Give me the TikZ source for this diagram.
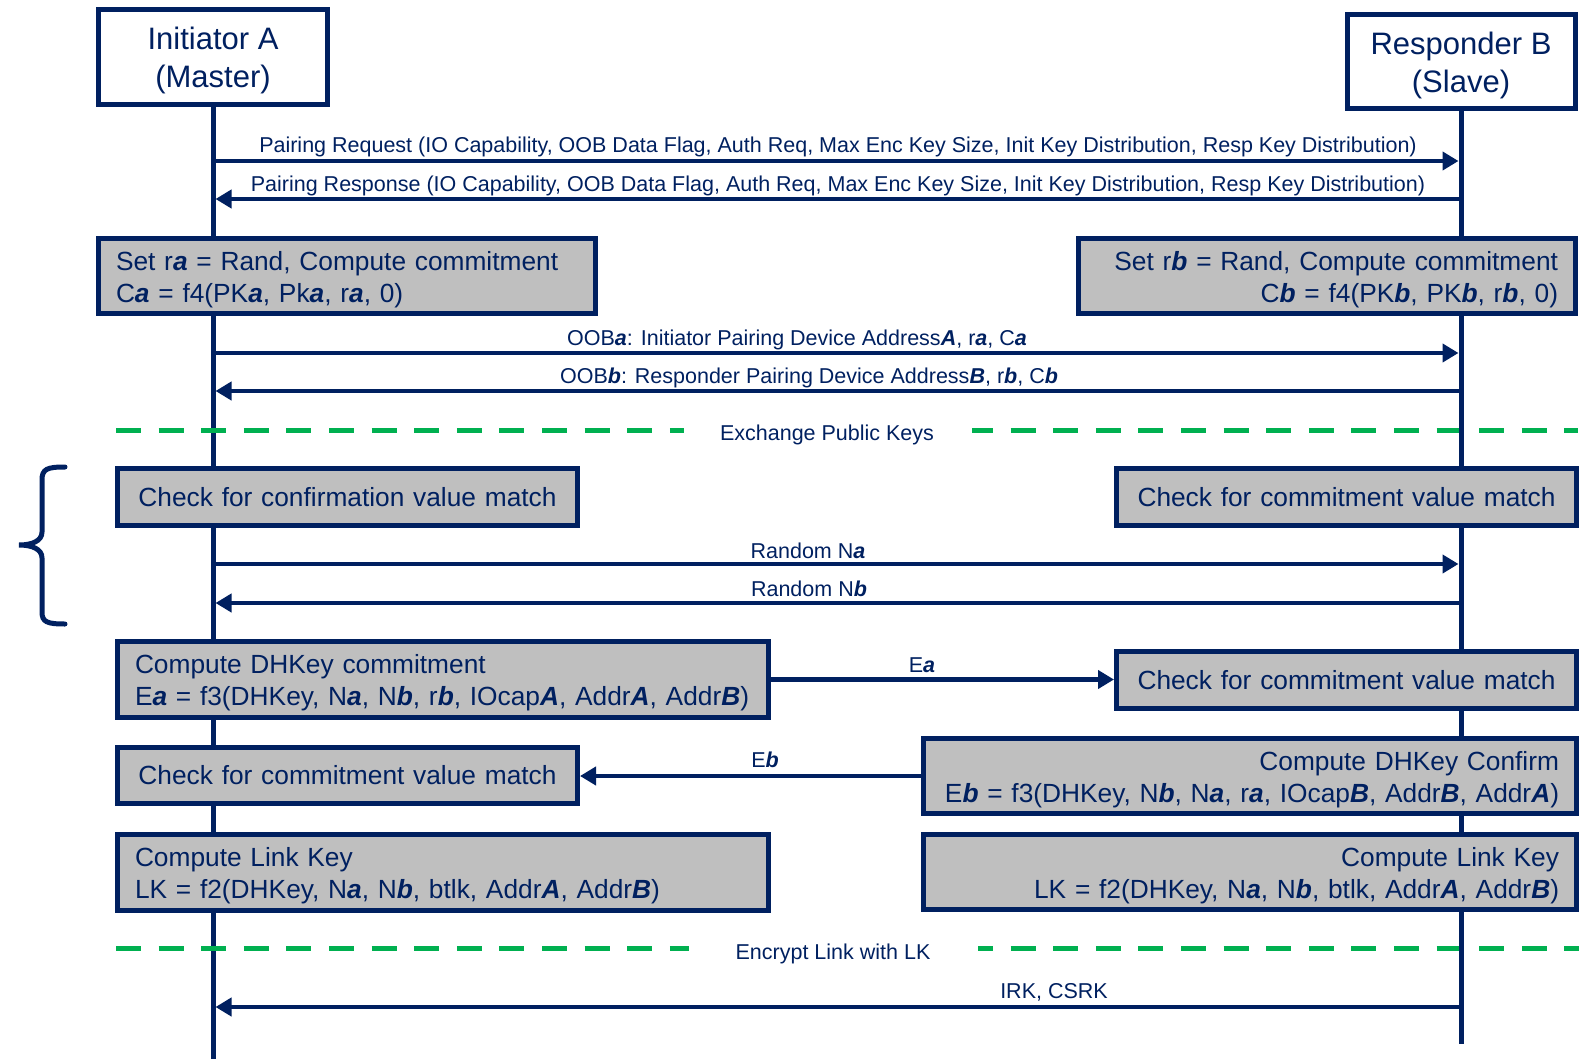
\documentclass[tikz,border=0pt]{standalone}
\usepackage{fontspec}
\setmainfont{Liberation Sans}
\usetikzlibrary{arrows.meta}
\definecolor{navy}{HTML}{002060}
\definecolor{boxgrey}{HTML}{BFBFBF}
\definecolor{sepgreen}{HTML}{00B050}
% bold italic letter without italic correction
\newcommand{\bi}[1]{{\bfseries\itshape #1}}
% raises the first line of two-line boxes
\newcommand{\firststrut}{\rule{0pt}{26.2pt}}
\newcommand{\headstrut}{\rule{0pt}{29.9pt}}

\begin{document}
\begin{tikzpicture}[x=1pt,y=-1pt,
  every node/.style={text=navy},
  actor/.style={draw=navy, line width=5pt, fill=white, align=center,
    font=\fontsize{31}{38}\selectfont, inner sep=0pt},
  stepbox/.style={draw=navy, line width=5pt, fill=boxgrey,
    font=\fontsize{26.3}{32}\selectfont, inner xsep=17.5pt, inner ysep=0pt},
  life/.style={draw=navy, line width=5pt},
  msg/.style={draw=navy, line width=4.5pt, -{Triangle[length=16pt,width=18pt]}},
  lbl/.style={font=\fontsize{21.5}{25}\selectfont, anchor=base, inner sep=0pt},
  sep/.style={draw=sepgreen, line width=5pt, dash pattern=on 25pt off 17.6pt},
  brace/.style={draw=navy, line width=5pt, line cap=round},
]
\useasboundingbox (0,0) rectangle (1594,1059);

% participants
\node[actor, minimum width=229pt, minimum height=95pt] (hA) at (213,57)
  {\headstrut Initiator A\\(Master)};
\node[actor, minimum width=228pt, minimum height=94pt] (hB) at (1461,61.5)
  {\headstrut Responder B\\(Slave)};

% lifeline of the initiator (under the separators)
\coordinate (endA) at (213,1059);
\coordinate (endB) at (1461,1044);
\draw[life] (hA.south) -- (endA);

% phase separators
\draw[sep] (116,430) -- (684,430);
\draw[sep, dash phase=4pt] (972,430) -- (1578,430);
\node[lbl] (lPK) at (827,440) {Exchange Public Keys};
\draw[sep] (116,948) -- (689,948);
\draw[sep, dash phase=10pt] (978,948) -- (1579,948);
\node[lbl] (lEnc) at (833,959) {Encrypt Link with LK};

% lifeline of the responder (over the separators)
\draw[life] (hB.south) -- (endB);

% message anchor points on the lifelines
\foreach \n/\y in {1/161,2/199,3/353,4/391,5/564,6/603,9/1007}{
  \coordinate (A\n) at (213,\y);
  \coordinate (B\n) at (1461,\y);
}

% messages between lifelines
\draw[msg, shorten >=2.5pt] (A1) -- (B1);
\draw[msg, shorten >=2.5pt] (B2) -- (A2);
\draw[msg, shorten >=2.5pt] (A3) -- (B3);
\draw[msg, shorten >=2.5pt] (B4) -- (A4);
\draw[msg, shorten >=2.5pt] (A5) -- (B5);
\draw[msg, shorten >=2.5pt] (B6) -- (A6);
\draw[msg, shorten >=2.5pt] (B9) -- (A9);

% processing steps
\node[stepbox, minimum width=497pt, minimum height=75pt, text width=462pt, align=left]
  (setA) at (347,276)
  {\firststrut Set r\bi{a} = Rand, Compute commitment\\C\bi{a} = f4(PK\bi{a}, Pk\bi{a}, r\bi{a}, 0)};
\node[stepbox, minimum width=497pt, minimum height=75pt, text width=462pt, align=right]
  (setB) at (1327,276)
  {\firststrut Set r\bi{b} = Rand, Compute commitment\\C\bi{b} = f4(PK\bi{b}, PK\bi{b}, r\bi{b}, 0)};
\node[stepbox, minimum width=460pt, minimum height=57pt, text width=425pt, align=center]
  (chkA1) at (347.5,497) {Check for confirmation value match};
\node[stepbox, minimum width=460pt, minimum height=57pt, text width=425pt, align=center]
  (chkB1) at (1346.5,497) {Check for commitment value match};
\node[stepbox, minimum width=651pt, minimum height=76pt, text width=616pt, align=left]
  (dhA) at (443,679.5)
  {\firststrut Compute DHKey commitment\\E\bi{a} = f3(DHKey, N\bi{a}, N\bi{b}, r\bi{b}, IOcap\bi{A}, Addr\bi{A}, Addr\bi{B})};
\node[stepbox, minimum width=460pt, minimum height=57pt, text width=425pt, align=center]
  (chkB2) at (1346.5,680) {Check for commitment value match};
\node[stepbox, minimum width=460pt, minimum height=56pt, text width=425pt, align=center]
  (chkA2) at (347.5,775.5) {Check for commitment value match};
\node[stepbox, minimum width=653pt, minimum height=75pt, text width=618pt, align=right]
  (dhB) at (1250,776)
  {\firststrut Compute DHKey Confirm\\E\bi{b} = f3(DHKey, N\bi{b}, N\bi{a}, r\bi{a}, IOcap\bi{B}, Addr\bi{B}, Addr\bi{A})};
\node[stepbox, minimum width=651pt, minimum height=76pt, text width=616pt, align=left]
  (lkA) at (443,872.5)
  {\firststrut Compute Link Key\\LK = f2(DHKey, N\bi{a}, N\bi{b}, btlk, Addr\bi{A}, Addr\bi{B})};
\node[stepbox, minimum width=653pt, minimum height=75pt, text width=618pt, align=right]
  (lkB) at (1250,872)
  {\firststrut Compute Link Key\\LK = f2(DHKey, N\bi{a}, N\bi{b}, btlk, Addr\bi{A}, Addr\bi{B})};

% messages between steps
\draw[msg] (dhA.east) -- (dhA.east -| chkB2.west);
\draw[msg] (dhB.west) -- (dhB.west -| chkA2.east);

% message labels
\node[lbl] (lReq) at (838,153) {Pairing Request (IO Capability, OOB Data Flag, Auth Req, Max Enc Key Size, Init Key Distribution, Resp Key Distribution)};
\node[lbl] (lResp) at (838,192) {Pairing Response (IO Capability, OOB Data Flag, Auth Req, Max Enc Key Size, Init Key Distribution, Resp Key Distribution)};
\node[lbl] (lOOBa) at (797,345) {OOB\bi{a}: Initiator Pairing Device Address\bi{A}, r\bi{a}, C\bi{a}};
\node[lbl] (lOOBb) at (809,383) {OOB\bi{b}: Responder Pairing Device Address\bi{B}, r\bi{b}, C\bi{b}};
\node[lbl] (lNa) at (808,558) {Random N\bi{a}};
\node[lbl] (lNb) at (809,596) {Random N\bi{b}};
\node[lbl] (lEa) at (922,672) {E\bi{a}};
\node[lbl] (lEb) at (765,767) {E\bi{b}};
\node[lbl] (lIRK) at (1054,998) {IRK, CSRK};

% grouping brace
\draw[brace] (65,467) .. controls (47,467) and (42,469) .. (42,480) -- (42,532)
  .. controls (42,541) and (32,545) .. (19,545)
  .. controls (32,545) and (42,549) .. (42,558) -- (42,612)
  .. controls (42,622) and (47,624) .. (65,624);
\end{tikzpicture}
\end{document}
